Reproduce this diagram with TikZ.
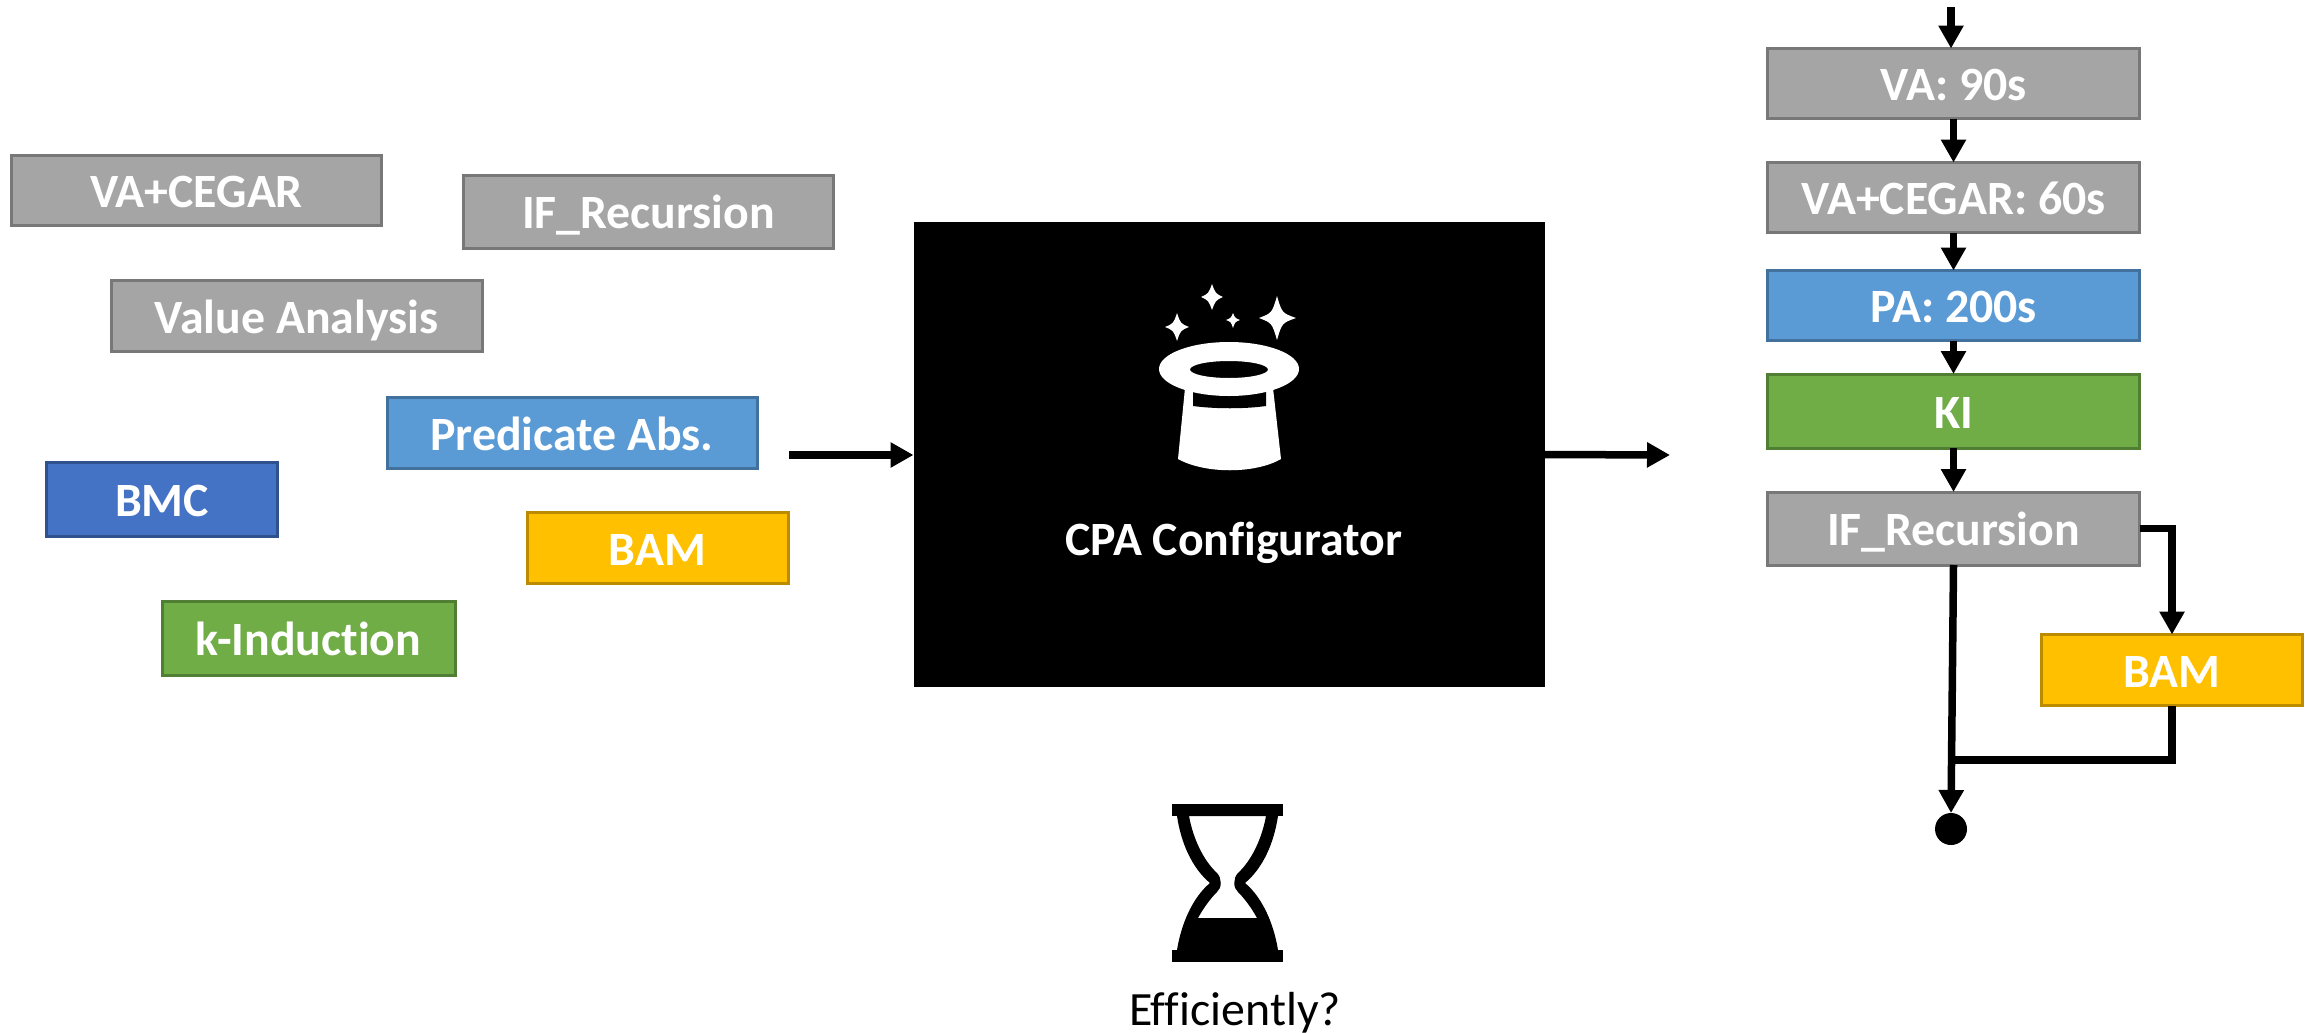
\documentclass[tikz,border=0pt]{standalone}
\usepackage{fontspec}
\setmainfont[Ligatures=CommonOff]{Carlito}
\usetikzlibrary{arrows.meta}

\definecolor{greyfill}{HTML}{A5A5A5}
\definecolor{greyline}{HTML}{787878}
\definecolor{bluefill}{HTML}{5B9BD5}
\definecolor{blueline}{HTML}{41719C}
\definecolor{navyfill}{HTML}{4472C4}
\definecolor{navyline}{HTML}{2F528F}
\definecolor{greenfill}{HTML}{70AD47}
\definecolor{greenline}{HTML}{507E32}
\definecolor{goldfill}{HTML}{FFC000}
\definecolor{goldline}{HTML}{BC8C00}

\tikzset{
  algo/.style={draw, line width=1.5pt, text=white, inner sep=0pt, outer sep=0pt,
    text height=17pt, text depth=0pt, font=\fontsize{23.9}{28}\selectfont\bfseries},
  greybox/.style={algo, fill=greyfill, draw=greyline},
  bluebox/.style={algo, fill=bluefill, draw=blueline},
  navybox/.style={algo, fill=navyfill, draw=navyline},
  greenbox/.style={algo, fill=greenfill, draw=greenline},
  goldbox/.style={algo, fill=goldfill, draw=goldline},
  flow/.style={draw=black, line width=3.75pt, -{Triangle[width=12pt,length=11.5pt]}},
  flowplain/.style={draw=black, line width=3.75pt}
}

\begin{document}
\begin{tikzpicture}[x=0.5pt,y=-0.5pt]
\useasboundingbox (0,0) rectangle (2318,1033);

\node [greybox, minimum width=185pt, minimum height=35pt] (poolcegar) at (196.5,190) {VA+CEGAR};
\node [greybox, minimum width=185pt, minimum height=36.5pt] (poolrecursion) at (648.5,211.5) {IF\_Recursion};
\node [greybox, minimum width=185.5pt, minimum height=35.5pt] (poolvalue) at (296.5,316) {Value Analysis};
\node [bluebox, minimum width=185pt, minimum height=35.5pt] (poolpredicate) at (572,433) {Predicate Abs.};
\node [navybox, minimum width=115.5pt, minimum height=37pt] (poolbmc) at (162,499.5) {BMC};
\node [goldbox, minimum width=130.5pt, minimum height=35.5pt] (poolbam) at (657.5,548) {BAM};
\node [greenbox, minimum width=146.5pt, minimum height=37pt] (poolinduction) at (308.5,638.5) {k-Induction};

\node [fill=black, inner sep=0pt, outer sep=0pt, minimum width=315.5pt, minimum height=232.5pt] (configurator) at (1229,454.5) {};
\node [text=white, text height=17pt, text depth=0pt, inner sep=0pt, font=\fontsize{23.9}{28}\selectfont\bfseries] (configlabel) at (1234,538) {CPA Configurator};

\coordinate (poolout) at (789,455);
\coordinate (resultin) at (1670,455);
\draw [flow] (poolout) -- (poolout -| configurator.west);
\draw [flow] (configurator.east) -- (resultin);

\fill [white] (1185,388) -- (1178,459) .. controls (1205,474) and (1255,474) .. (1281,459) -- (1273,388) -- cycle;
\fill [black] (1193,385) -- (1193,406) .. controls (1215,409) and (1245,409) .. (1266,406) -- (1266,385) -- cycle;
\fill [white, even odd rule] (1229,369) ellipse [x radius=70, y radius=27] (1229,369.5) ellipse [x radius=39, y radius=8.5];

\fill [white] (1177,313) .. controls (1180.5,323.5) .. (1189,327) .. controls (1180.5,330.5) .. (1177,341) .. controls (1173.5,330.5) .. (1165,327) .. controls (1173.5,323.5) .. cycle;
\fill [white] (1212,284) .. controls (1215.5,293.5) .. (1223,297) .. controls (1215.5,300.5) .. (1212,310) .. controls (1208.5,300.5) .. (1201,297) .. controls (1208.5,293.5) .. cycle;
\fill [white] (1233,313) .. controls (1235,318) .. (1240,320) .. controls (1235,322) .. (1233,328) .. controls (1231,322) .. (1226,320) .. controls (1231,318) .. cycle;
\fill [white] (1277,296) .. controls (1282,313) .. (1296,318) .. controls (1282,323) .. (1277,340) .. controls (1272,323) .. (1259,318) .. controls (1272,313) .. cycle;

\fill [black] (1172,804) rectangle (1283,816);
\fill [black] (1172,950) rectangle (1283,962);
\fill [black, even odd rule] (1177,816) .. controls (1181,843) and (1192,868) .. (1210,883) .. controls (1192,898) and (1181,925) .. (1177,950) -- (1278,950) .. controls (1274,925) and (1263,898) .. (1245,883) .. controls (1263,868) and (1274,843) .. (1278,816) -- cycle
  (1189,816) .. controls (1193,838) and (1203,860) .. (1217,873) .. controls (1222,878) and (1222,888) .. (1217,892) .. controls (1211,898) and (1204,907) .. (1198,918) -- (1257,918) .. controls (1251,907) and (1244,898) .. (1238,892) .. controls (1233,888) and (1233,878) .. (1238,873) .. controls (1252,860) and (1262,838) .. (1266,816) -- cycle;

\node [anchor=base, inner sep=0pt, font=\fontsize{23.9}{28}\selectfont] (question) at (1235,1025) {Efficiently?};

\node [greybox, minimum width=186pt, minimum height=35pt] (va) at (1953.5,83.5) {VA: 90s};
\node [greybox, minimum width=186pt, minimum height=35pt] (cegar) at (1953.5,197.5) {VA+CEGAR: 60s};
\node [bluebox, minimum width=186pt, minimum height=35pt] (pa) at (1953.5,305.5) {PA: 200s};
\node [greenbox, minimum width=186pt, minimum height=37pt] (ki) at (1953.5,411) {KI};
\node [greybox, minimum width=186pt, minimum height=36.5pt] (recursion) at (1953.5,528.5) {IF\_Recursion};
\node [goldbox, minimum width=130.5pt, minimum height=35.5pt] (bam) at (2172,670) {BAM};
\node [circle, fill=black, inner sep=0pt, outer sep=0pt, minimum size=16pt] (finish) at (1951,829) {};

\coordinate (start) at (1951,7);
\coordinate (merge) at (1952,760);

\draw [flow] (start) -- (start |- va.north);
\draw [flow] (va) -- (cegar);
\draw [flow] (cegar) -- (pa);
\draw [flow] (pa) -- (ki);
\draw [flow] (ki) -- (recursion);
\draw [flow] (recursion.east) -| (bam.north);
\draw [flow] (recursion.south) -- (finish.north);
\draw [flowplain] (bam.south) |- (merge);
\end{tikzpicture}
\end{document}
